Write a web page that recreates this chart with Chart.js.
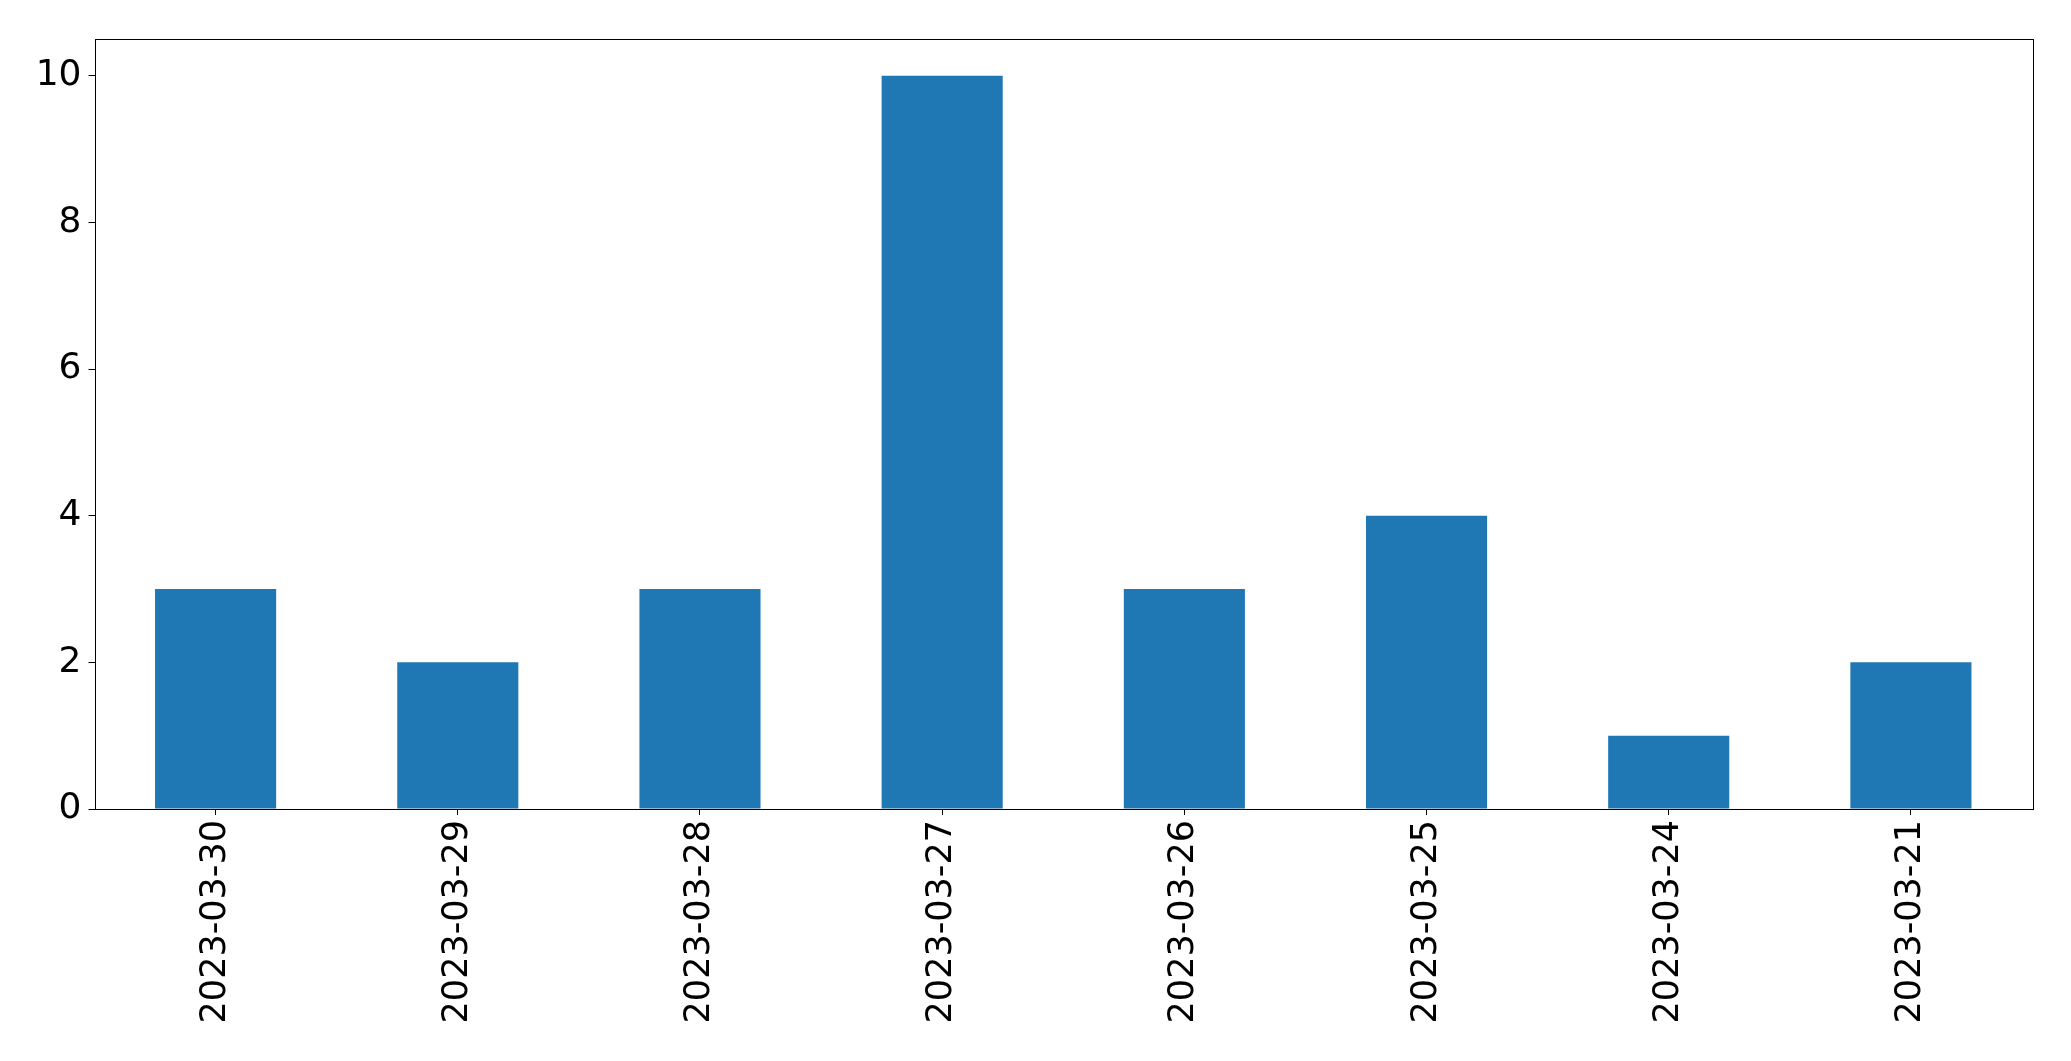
<!DOCTYPE html>
<html>
<head>
<meta charset="utf-8">
<script src="https://cdn.jsdelivr.net/npm/chart.js@4/dist/chart.umd.min.js"></script>
<style>
  html, body { margin: 0; padding: 0; background: #fff; }
  #wrap { width: 2071px; height: 1061px; }
</style>
</head>
<body>
<div id="wrap"><canvas id="barChart"></canvas></div>
<script>
const dates = ['2023-03-30', '2023-03-29', '2023-03-28', '2023-03-27',
               '2023-03-26', '2023-03-25', '2023-03-24', '2023-03-21'];
const counts = [3, 2, 3, 10, 3, 4, 1, 2];
const yTicks = [0, 2, 4, 6, 8, 10];

// draws the full box around the plot like matplotlib does
const frameBox = {
    id: 'frameBox',
    afterDraw(chart) {
        const a = chart.chartArea;
        const c = chart.ctx;
        c.save();
        c.strokeStyle = '#000';
        c.lineWidth = 1;
        c.strokeRect(Math.round(a.left) + 0.5, Math.round(a.top) + 0.5,
                     Math.round(a.right - a.left), Math.round(a.bottom - a.top));
        c.restore();
    }
};

const ctx = document.getElementById('barChart').getContext('2d');
const barChart = new Chart(ctx, {
    type: 'bar',
    data: {
        labels: dates,
        datasets: [{
            data: counts,
            backgroundColor: '#1f77b4',
            borderWidth: 0,
            categoryPercentage: 1.0,
            barPercentage: 0.5
        }]
    },
    options: {
        responsive: true,
        maintainAspectRatio: false,
        animation: false,
        layout: { padding: { top: 39, right: 39, left: 0, bottom: 0 } },
        plugins: {
            legend: { display: false },
            tooltip: { enabled: false }
        },
        scales: {
            x: {
                grid: { display: true, offset: false, drawOnChartArea: false, tickLength: 6, color: '#000' },
                border: { display: false },
                ticks: {
                    color: '#000',
                    maxRotation: 90,
                    minRotation: 90,
                    padding: 5,
                    font: { family: 'DejaVu Sans', size: 35 }
                },
                afterFit: (s) => { s.height = 252; }
            },
            y: {
                min: 0,
                max: 10.5,
                grid: { display: true, drawOnChartArea: false, tickLength: 6, color: '#000' },
                border: { display: false },
                afterBuildTicks: (s) => { s.ticks = yTicks.map(v => ({ value: v })); },
                ticks: {
                    color: '#000',
                    padding: 7,
                    includeBounds: false,
                    font: { family: 'DejaVu Sans', size: 36 }
                },
                afterFit: (s) => { s.width = 94.5; }
            }
        }
    },
    plugins: [frameBox]
});
</script>
</body>
</html>
